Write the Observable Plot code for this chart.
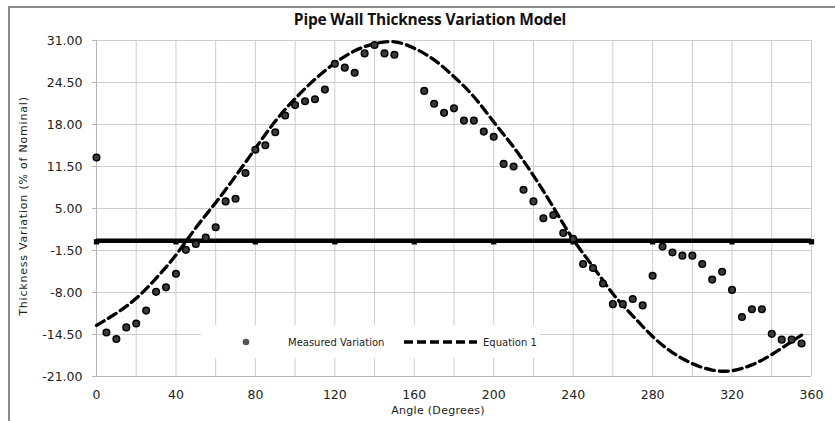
<!DOCTYPE html>
<html>
<head>
<meta charset="utf-8">
<script src="https://cdn.jsdelivr.net/npm/d3@7"></script>
<script src="https://cdn.jsdelivr.net/npm/@observablehq/plot@0.6"></script>
<style>
  html, body { margin: 0; padding: 0; background: #fff; }
  #wrap { position: relative; width: 835px; height: 421px; overflow: hidden; background: #fff; }
  #frame { position: absolute; left: 8px; top: 6px; width: 900px; height: 500px; border: 2px solid #8c8c8c; box-sizing: border-box; }
  #chart { position: absolute; left: 0; top: 0; }
  .txt { position: absolute; font-family: "DejaVu Sans", sans-serif; color: #222; white-space: nowrap; line-height: 1; }
  #title { left: 430px; top: 12px; transform: translateX(-50%); font-family: "Open Sans", Lato, sans-serif; font-weight: bold; font-size: 15.5px; letter-spacing: -0.2px; color: #111; }
  #ylab { left: 23px; top: 206px; transform: translate(-50%, -50%) rotate(-90deg); font-size: 11px; letter-spacing: 0.8px; }
  #xlab { left: 438px; top: 405px; transform: translateX(-50%); font-size: 11px; letter-spacing: 0.3px; }
  #legend { position: absolute; left: 201px; top: 325px; width: 339px; height: 33px; background: #fff; }
</style>
</head>
<body>
<div id="wrap">
  <div id="frame"></div>
  <div id="chart"></div>
  <div id="legend"></div>
  <div class="txt" id="title">Pipe Wall Thickness Variation Model</div>
  <div class="txt" id="ylab">Thickness Variation (% of Nominal)</div>
  <div class="txt" id="xlab">Angle (Degrees)</div>
</div>
<script>
// Measured variation (angle in degrees, % of nominal)
const measuredAngles = [0,5,10,15,20,25,30,35,40,45,50,55,60,65,70,75,80,85,90,95,100,105,110,115,120,125,130,135,140,145,150,
  165,170,175,180,185,190,195,200,205,210,215,220,225,230,235,240,245,250,255,260,265,270,275,280,285,290,295,300,305,310,315,320,325,330,335,340,345,350,355];
const measuredValues = [12.9,-14.2,-15.2,-13.4,-12.8,-10.8,-7.9,-7.2,-5.1,-1.4,-0.5,0.5,2.1,6.1,6.5,10.5,14.1,14.8,16.8,19.4,21.0,21.6,21.9,23.4,27.4,26.8,26.0,29.0,30.3,29.0,28.8,
  23.2,21.2,19.8,20.5,18.6,18.6,16.9,16.1,11.9,11.5,7.9,6.1,3.5,4.0,1.2,0.3,-3.6,-4.2,-6.6,-9.8,-9.8,-9.0,-10.0,-5.4,-0.9,-1.8,-2.3,-2.3,-3.6,-6.0,-4.8,-7.6,-11.8,-10.6,-10.6,-14.4,-15.3,-15.3,-15.9];

// Equation 1
const equationAngles = [0,10,20,30,40,50,60,70,80,90,100,110,120,130,140,150,160,170,180,190,200,210,220,230,240,250,260,270,280,290,300,310,320,330,340,350,355];
const equationValues = [-13.1,-11.2,-8.9,-5.8,-2.2,2.0,5.9,10.0,14.3,18.5,22.0,25.0,27.5,29.4,30.5,30.8,29.8,28.0,25.4,22.3,18.4,14.5,10.1,5.2,0.2,-4.0,-8.2,-11.6,-14.8,-17.3,-19.0,-20.0,-20.1,-19.2,-17.6,-15.6,-14.6];

// Zero reference line markers
const zeroMarkerAngles = [0,40,80,120,160,200,240,280,320,360];

// Axis ticks
const xTickLabels = [0,40,80,120,160,200,240,280,320,360];
const xGridAngles = [0,20,40,60,80,100,120,140,160,180,200,220,240,260,280,300,320,340,360];
const yTickLabels = [31,24.5,18,11.5,5,-1.5,-8,-14.5,-21];

const measured = measuredAngles.map((a, i) => ({angle: a, value: measuredValues[i]}));
const equation = equationAngles.map((a, i) => ({angle: a, value: equationValues[i]}));

const chart = Plot.plot({
  width: 835,
  height: 421,
  marginLeft: 96,
  marginRight: 24,
  marginTop: 40,
  marginBottom: 45,
  x: {domain: [0, 360]},
  y: {domain: [-21, 31]},
  style: {fontFamily: "DejaVu Sans, sans-serif", fontSize: "12.5px", color: "#222", background: "transparent", overflow: "visible"},
  marks: [
    Plot.gridX(xGridAngles, {stroke: "#cdcdcd", strokeOpacity: 1}),
    Plot.gridY(yTickLabels, {stroke: "#cdcdcd", strokeOpacity: 1}),
    Plot.axisY(yTickLabels, {tickFormat: d => d.toFixed(2), tickSize: 4, tickPadding: 10, stroke: "#b5b5b5", label: null}),
    Plot.axisX(xTickLabels, {tickSize: 0, tickPadding: 14, label: null}),
    Plot.ruleX([0], {stroke: "#b5b5b5"}),
    Plot.ruleY([-21], {stroke: "#b5b5b5"}),
    Plot.ruleY([0], {stroke: "#000", strokeWidth: 4.5}),
    Plot.dot(zeroMarkerAngles, {x: d => d, y: 0, symbol: "square", r: 3, fill: "#000", dy: 1}),
    Plot.line(equation, {x: "angle", y: "value", stroke: "#000", strokeWidth: 3.3, strokeDasharray: "9,5", curve: "natural"}),
    Plot.dot(measured, {x: "angle", y: "value", r: 3.3, fill: "#3a3a3a", stroke: "#000", strokeWidth: 1.5})
  ]
});
document.getElementById("chart").appendChild(chart);

// Legend (inside the plot area, like the original)
const legend = d3.select("#legend").append("svg").attr("width", 339).attr("height", 33);
legend.append("circle").attr("cx", 45).attr("cy", 17).attr("r", 3.3).attr("fill", "#555");
legend.append("text").attr("x", 87).attr("y", 20.5).attr("font-family", "DejaVu Sans, sans-serif").attr("font-size", 10).attr("fill", "#222").text("Measured Variation");
legend.append("line").attr("x1", 203).attr("x2", 276).attr("y1", 17).attr("y2", 17).attr("stroke", "#000").attr("stroke-width", 3.3).attr("stroke-dasharray", "9,4");
legend.append("text").attr("x", 282).attr("y", 20.5).attr("font-family", "DejaVu Sans, sans-serif").attr("font-size", 10).attr("fill", "#222").text("Equation 1");
</script>
</body>
</html>
